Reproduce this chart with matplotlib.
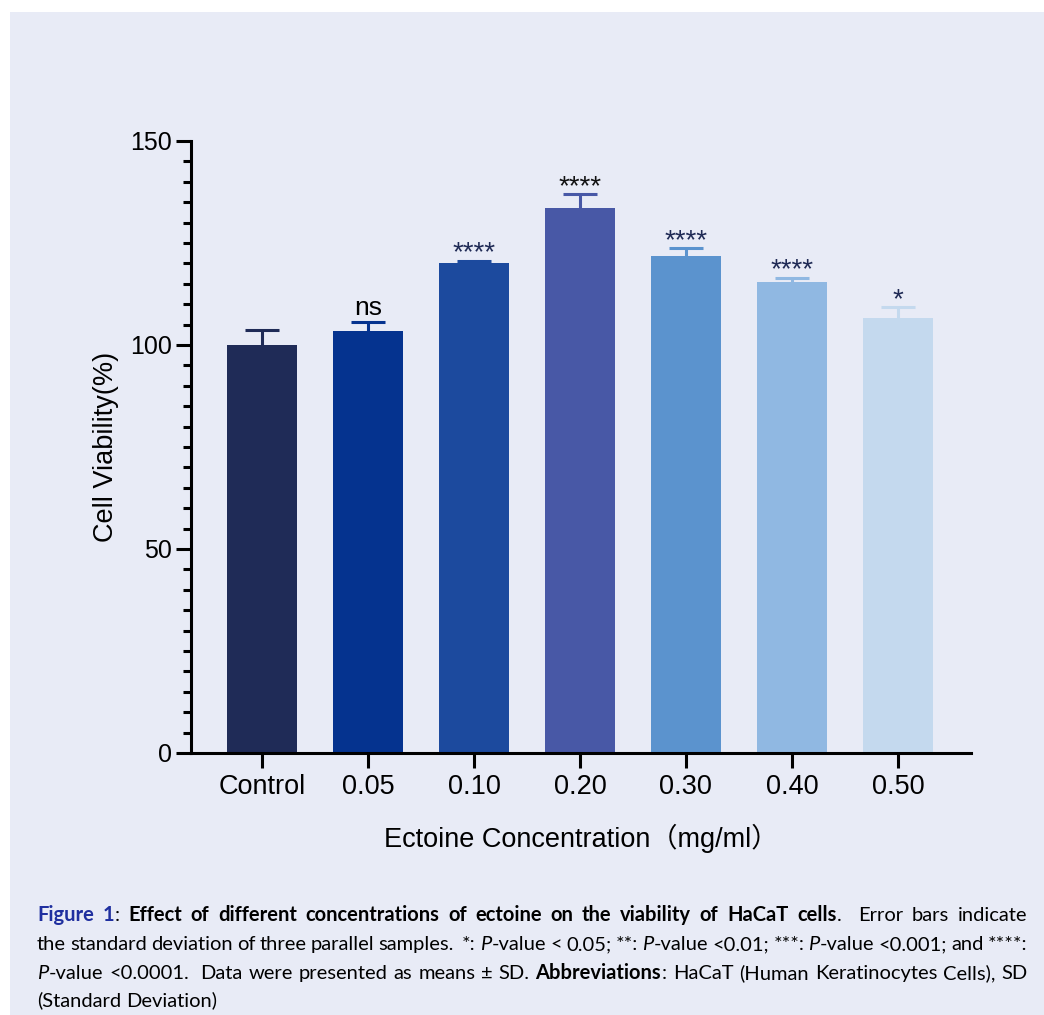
import matplotlib
matplotlib.use('Agg')
import matplotlib.pyplot as plt
from matplotlib.patches import Rectangle
from matplotlib.ticker import MultipleLocator

plt.rcParams['font.family'] = ['Liberation Sans', 'Noto Sans CJK SC', 'DejaVu Sans']

# cell viability (%) per ectoine concentration, mean and SD
groups = ['Control', '0.05', '0.10', '0.20', '0.30', '0.40', '0.50']
means = [100.0, 103.5, 120.0, 133.6, 121.8, 115.5, 106.7]
sds = [3.6, 2.2, 0.7, 3.4, 2.0, 1.0, 2.6]
signif = ['', 'ns', '****', '****', '****', '****', '*']

colors = ['#1f2b57', '#05338f', '#1c4a9e', '#4858a6', '#5b93ce', '#90b8e2', '#c4d9ee']
sig_colors = ['black', 'black', '#1f2a55', '#111111', '#1f2a55', '#1f2a55', '#1f2a55']

W, H = 1044, 1015
fig = plt.figure(figsize=(W / 100, H / 100), dpi=100)
fig.patch.set_facecolor('white')
fig.add_artist(Rectangle((10 / W, 0), 1 - 10 / W, 1 - 12 / H, transform=fig.transFigure,
                         facecolor='#e8ebf6', edgecolor='none', zorder=-10))

ax = fig.add_axes([191 / W, 1 - 753 / H, 780 / W, 612 / H])
ax.set_facecolor('none')

x = list(range(len(groups)))
ax.bar(x, means, width=0.66, color=colors, zorder=2)
for i in x:
    # upper error bar only
    eb = ax.errorbar(i, means[i], yerr=[[0], [sds[i]]], color=colors[i], elinewidth=2.2,
                     capsize=12.5, capthick=2.2, zorder=1)
    eb[1][0].set_visible(False)
    if signif[i] == 'ns':
        ax.annotate('ns', xy=(i, means[i] + sds[i]), xytext=(0, 5), textcoords='offset points',
                    ha='center', va='baseline', fontsize=19, color=sig_colors[i])
    elif signif[i]:
        ax.annotate(signif[i], xy=(i, means[i] + sds[i]), xytext=(0, 0), textcoords='offset points',
                    ha='center', va='baseline', fontsize=20, color=sig_colors[i])

ax.set_xlim(-0.67, 6.69)
ax.set_ylim(0, 150)
ax.set_yticks([0, 50, 100, 150])
ax.yaxis.set_minor_locator(MultipleLocator(5))
ax.set_xticks(x)
ax.set_xticklabels(groups)

for s in ['top', 'right']:
    ax.spines[s].set_visible(False)
for s in ['left', 'bottom']:
    ax.spines[s].set_linewidth(2.2)
ax.tick_params(which='major', length=10.8, width=2.2, direction='out')
ax.tick_params(which='minor', length=5.8, width=2.2, direction='out')
ax.tick_params(axis='y', labelsize=18, pad=3)
ax.tick_params(axis='x', labelsize=19.5, pad=4)

ax.set_ylabel('Cell Viability(%)', fontsize=19.5)
ax.yaxis.set_label_coords(-0.092, 0.5)
ax.set_xlabel('Ectoine Concentration（mg/ml）', fontsize=19.5)
ax.xaxis.set_label_coords(0.5, -0.115)

# caption, set word by word so the first three lines are justified
cap_font = ['Lato', 'DejaVu Sans']
cap_size = 14.5
styles = {
    'n': {},
    'b': {'fontweight': 'bold'},
    'i': {'fontstyle': 'italic'},
    'f': {'fontweight': 'bold', 'color': '#1f2f9f'},
}
caption = [
    [('f', 'Figure 1'), ('n', ': '),
     ('b', 'Effect of different concentrations of ectoine on the viability of HaCaT cells'),
     ('n', '.  Error bars indicate')],
    [('n', 'the standard deviation of three parallel samples.  *: '), ('i', 'P'),
     ('n', '-value < 0.05; **: '), ('i', 'P'), ('n', '-value <0.01; ***: '), ('i', 'P'),
     ('n', '-value <0.001; and ****:')],
    [('i', 'P'), ('n', '-value <0.0001.  Data were presented as means ± SD. '),
     ('b', 'Abbreviations'), ('n', ': HaCaT (Human Keratinocytes Cells), SD')],
    [('n', '(Standard Deviation)')],
]
baselines = [921, 950, 979, 1006]
cap_left, cap_right = 37, 1028


def split_words(runs):
    words = [[]]
    gaps = []
    pending = 0
    for style, text in runs:
        parts = text.split(' ')
        for k, p in enumerate(parts):
            if k > 0:
                pending += 1
            if p:
                if pending and words[-1]:
                    words.append([])
                    gaps.append(pending)
                pending = 0
                words[-1].append((style, p))
    return words, gaps


renderer = fig.canvas.get_renderer()
for n, runs in enumerate(caption):
    words, gaps = split_words(runs)
    items = []
    widths = []
    for word in words:
        pieces = []
        wsum = 0
        for style, txt in word:
            t = fig.text(0, 0, txt, fontsize=cap_size, family=cap_font, va='baseline',
                         ha='left', **styles[style])
            w = t.get_window_extent(renderer).width
            pieces.append((t, wsum))
            wsum += w + 0.5
        items.append(pieces)
        widths.append(wsum)
    total = sum(widths)
    if n < len(caption) - 1 and gaps:
        unit = (cap_right - cap_left - total) / sum(gaps)
    else:
        unit = 4.0
    xpos = cap_left
    for j, pieces in enumerate(items):
        if j > 0:
            xpos += gaps[j - 1] * unit
        for t, off in pieces:
            t.set_position(((xpos + off) / W, 1 - baselines[n] / H))
        xpos += widths[j]

fig.savefig('out.png', dpi=100)
